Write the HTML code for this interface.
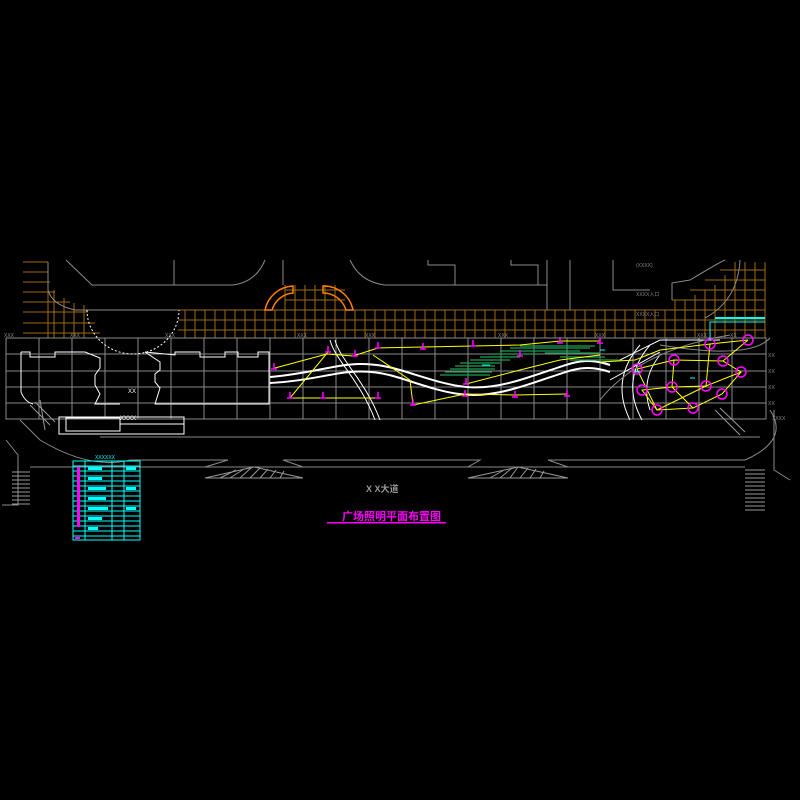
<!DOCTYPE html>
<html><head><meta charset="utf-8"><style>html,body{margin:0;padding:0;background:#000;}svg{display:block}</style></head>
<body>
<svg width="800" height="800" viewBox="0 0 800 800" xmlns="http://www.w3.org/2000/svg" font-family="Liberation Sans, Noto Sans CJK SC, sans-serif">
<rect width="800" height="800" fill="#000"/>
<!-- orange grid -->
<g stroke="#a06a10" stroke-width="1">
<path d="M23,262H48M23,272H48M23,282H50M23,292H55M23,302H70M23,312H88M23,323H95M23,333H100"/>
<path d="M48,262V338M54,290V338M64,298V338M74,303V338M84,305V338"/>
<path d="M178,310H765M178,320H765M178,330H765"/>
<path d="M185,310V338M195,310V338M205,310V338M215,310V338M225,310V338M235,310V338M245,310V338M255,310V338M265,310V338M275,310V338M285,285V338M295,285V338M305,285V338M315,285V338M325,285V338M335,285V338M345,310V338M355,310V338M365,310V338M375,310V338M385,310V338M395,310V338M405,310V338M415,310V338M425,310V338M435,310V338M445,310V338M455,310V338M465,310V338M475,310V338M485,310V338M495,310V338M505,310V338M515,310V338M525,310V338M535,310V338M545,310V338M555,310V338M565,310V338M575,310V338M585,310V338M595,310V338M605,310V338M615,310V338M625,310V338M635,310V338M645,310V338M655,310V338M665,310V338M675,300V338M685,300V338M695,295V338M705,290V338M715,285V338M725,275V338M735,262V338M745,262V338M755,262V338M765,262V338"/>
<path d="M672,300H765M690,290H765M705,280H765M720,270H765M285,300H345M285,290H345"/>
</g>
<!-- orange arcs -->
<path d="M265,310 A30,30 0 0 1 293,286 L293,293 A24,24 0 0 0 272,310Z" fill="none" stroke="#ff8000" stroke-width="1.5"/>
<path d="M353,310 A30,30 0 0 0 323,286 L323,293 A24,24 0 0 1 346,310Z" fill="none" stroke="#ff8000" stroke-width="1.5"/>
<!-- gray building lines -->
<g stroke="#8a8a8a" stroke-width="1" fill="none">
<path d="M48,262V290Q52,305 75,310H178"/>
<path d="M66,260L92,285H233Q256,282 265,260"/>
<path d="M174,260V285"/>
<path d="M283,260V285"/><path d="M350,260Q360,282 385,285H547V260"/>
<path d="M428,260V265H455V285"/><path d="M511,260V265H538V285"/>
<path d="M547,285V310"/><path d="M570,260V310"/>
<path d="M613,260V290H650"/><path d="M672,300V283L690,280Q720,262 725,260"/>
<path d="M740,260Q738,300 705,318"/>
<path d="M6,338H766V419H6Z"/>
<path d="M6,354H766M6,371H766M6,387H766M6,403H766"/>
<path d="M39,338V419M72,338V419M105,338V419M138,338V419M171,338V419M204,338V419M237,338V419M270,338V419M303,338V419M336,338V419M369,338V419M402,338V419M435,338V419M468,338V419M501,338V419M534,338V419M567,338V419M600,338V419M633,338V419M666,338V419M699,338V419M732,338V419"/>
<path d="M100,437H760"/>
<path d="M20,420L40,440Q90,470 130,460H228L205,467H303L283,460H480L468,467H568L548,460H745Q790,440 770,410"/>
<path d="M30,467H205M303,467H468M568,467H745"/>
<path d="M6,440L18,455V505H2"/><path d="M774,410V470L790,480"/>
<path d="M660,345Q750,360 770,338"/>
</g>
<!-- hatched triangles -->
<g stroke="#999" fill="none">
<path d="M205,478L254,467L303,478Z"/><path d="M468,478L518,467L568,478Z"/>
<path d="M220,478L236,470M230,478L244,469M240,478L252,467M250,478L260,468M260,478L268,469M270,478L276,470M280,478L284,471M490,478L504,470M500,478L512,468M510,478L518,467M520,478L528,468M530,478L536,469M540,478L544,471"/>
</g>
<!-- stairs -->
<g stroke="#999">
<path d="M12,472H30M12,476H30M12,480H30M12,484H30M12,488H30M12,492H30M12,496H30M12,500H30M12,504H30"/>
<path d="M745,470H765M745,474H765M745,478H765M745,482H765M745,486H765M745,490H765M745,494H765M745,498H765M745,502H765M745,506H765M745,510H765"/>
<path d="M30,405L50,425M35,402L55,422M40,400L45,430M715,410L740,435M720,408L745,432"/>
</g>
<!-- white plaza outlines -->
<g stroke="#fff" fill="none" stroke-width="1">
<path d="M87,310 A46,44 0 0 0 179,310" stroke-dasharray="2,2"/>
<path d="M21,352H30V357H55V352H85L100,358V368L95,375V385L100,394L95,404H120M21,352V392Q25,402 33,404"/>
<path d="M145,352L160,362V370L155,374V382L160,388L155,404H269V352H258V357H238V352H225V357H200V352H175V355Z"/>
<path d="M59,417H184V434H59Z"/><path d="M66,418H120V431H66Z"/>
<path d="M120,424H184"/>
</g>
<text x="120" y="420" fill="#fff" font-size="6">XXXX</text>
<text x="128" y="393" fill="#fff" font-size="6">XX</text>
<!-- wavy path -->
<g stroke="#fff" fill="none" stroke-width="2">
<path d="M270,377C330,372 350,355 400,370S470,395 520,380S580,355 610,365"/>
<path d="M270,383C330,380 350,362 400,378S470,402 520,387S580,362 610,372"/>
<path d="M330,340C335,360 360,380 375,420" stroke-width="1"/>
<path d="M335,340C340,360 365,380 380,420" stroke-width="1"/>
<path d="M640,345Q610,380 630,420M650,345Q620,380 642,420M660,355Q640,380 650,410" stroke-width="1"/>
<path d="M620,360L660,340L720,340M610,380L660,352" stroke-width="1"/>
</g>
<path d="M600,400Q640,350 730,335" stroke="#888" fill="none"/>
<!-- green hatch -->
<g stroke="#1fa055" stroke-width="1.3">
<path d="M440,375H490M445,372H492M450,369H495M455,366H495M460,363H500M470,360H510M480,357H520M490,354H540M500,351H580M510,348H590M520,346H595M545,353H600M560,357H605M570,360H620"/>
</g>
<!-- yellow lines -->
<g stroke="#ff0" fill="none" stroke-width="1">
<path d="M275,368L327,354L353,356L378,348L423,347L473,346L520,345L560,341L600,341"/>
<path d="M328,352L290,398H323L380,398"/>
<path d="M373,355L410,380L413,405"/>
<path d="M413,405L465,394L515,395L567,394"/>
<path d="M466,384L520,370L560,360L600,355"/>
<path d="M600,362L635,360L660,350L710,344L748,340"/>
<path d="M637,369L674,360L723,361L741,372L706,386L672,387L642,390L657,410L693,408L722,394L741,372"/>
<path d="M637,369L657,410M674,360L672,387L693,408M710,344L706,386L657,410M748,340L723,361"/>
</g>
<!-- magenta lamp markers -->
<g fill="none" stroke="#f0f" stroke-width="1.5">
<path d="M274,369v-6M290,398v-6M323,398v-6M328,352v-6M355,356v-6M378,348v-6M378,398v-6M413,405v-6M423,349v-6M466,384v-6M465,396v-6M473,346v-6M515,397v-6M520,356v-6M567,396v-6M560,343v-6M600,343v-6"/>
<path d="M271,369h6M287,398h6M320,398h6M325,352h6M352,356h6M375,348h6M375,398h6M410,405h6M420,349h6M463,384h6M462,396h6M470,346h6M512,397h6M517,356h6M564,396h6M557,343h6M597,343h6"/>
<circle cx="637" cy="369" r="5"/><circle cx="674" cy="360" r="5"/><circle cx="723" cy="361" r="5"/><circle cx="741" cy="372" r="5"/>
<circle cx="706" cy="386" r="5"/><circle cx="672" cy="387" r="5"/><circle cx="642" cy="390" r="5"/><circle cx="657" cy="410" r="5"/>
<circle cx="693" cy="408" r="5"/><circle cx="722" cy="394" r="5"/><circle cx="710" cy="344" r="5"/><circle cx="748" cy="340" r="5"/>
</g>
<!-- cyan bits -->
<g stroke="#0ff" fill="none">
<path d="M710,340V322H765"/><path d="M715,318H765" stroke-width="2"/>
<path d="M482,365h8M600,350h5M635,372h5M690,378h5"/>
</g>
<!-- gray labels -->
<g fill="#888" font-size="5">
<text x="4" y="337">XXX</text><text x="70" y="337">XXX</text><text x="165" y="337">XXX</text><text x="297" y="337">XXX</text><text x="365" y="337">XXX</text><text x="498" y="337">XXX</text><text x="595" y="337">XXX</text><text x="697" y="337">XXX</text><text x="730" y="337">XX</text>
<text x="768" y="357">XX</text><text x="768" y="373">XX</text><text x="768" y="389">XX</text><text x="768" y="405">XX</text><text x="772" y="420">XXXX</text>
<text x="636" y="267">(XXXX)</text><text x="636" y="296">XXXX入口</text><text x="636" y="316">XXXX入口</text>
</g>
<!-- legend table -->
<g stroke="#0ff" fill="none" stroke-width="1">
<rect x="73" y="461" width="67" height="79"/>
<path d="M73,466H140M73,471H140M73,476H140M73,481H140M73,486H140M73,491H140M73,496H140M73,501H140M73,506H140M73,511H140M73,516H140M73,521H140M73,526H140M73,531H140M73,536H140"/>
<path d="M85,461V540M112,461V540M124,461V540"/>
</g>
<g fill="#0ff"><rect x="88" y="467" width="14" height="3"/><rect x="88" y="477" width="14" height="3"/><rect x="88" y="487" width="18" height="3"/><rect x="88" y="497" width="18" height="3"/><rect x="88" y="507" width="20" height="3"/><rect x="88" y="517" width="14" height="3"/><rect x="88" y="527" width="10" height="3"/><rect x="126" y="467" width="10" height="3"/><rect x="126" y="487" width="10" height="3"/><rect x="126" y="507" width="10" height="3"/></g>
<text x="95" y="459" fill="#0ff" font-size="5">XXXXXX</text>
<g fill="#f0f"><rect x="77" y="467" width="3" height="60"/><rect x="75" y="537" width="5" height="2"/></g>
<!-- titles -->
<text x="366" y="492" fill="#999" font-size="9" font-weight="bold">X X大道</text>
<text x="342" y="520" fill="#f0f" font-size="11" font-weight="bold">广场照明平面布置图</text>
<rect x="327" y="522" width="119" height="1.5" fill="#f0f"/>
</svg>
</body></html>
